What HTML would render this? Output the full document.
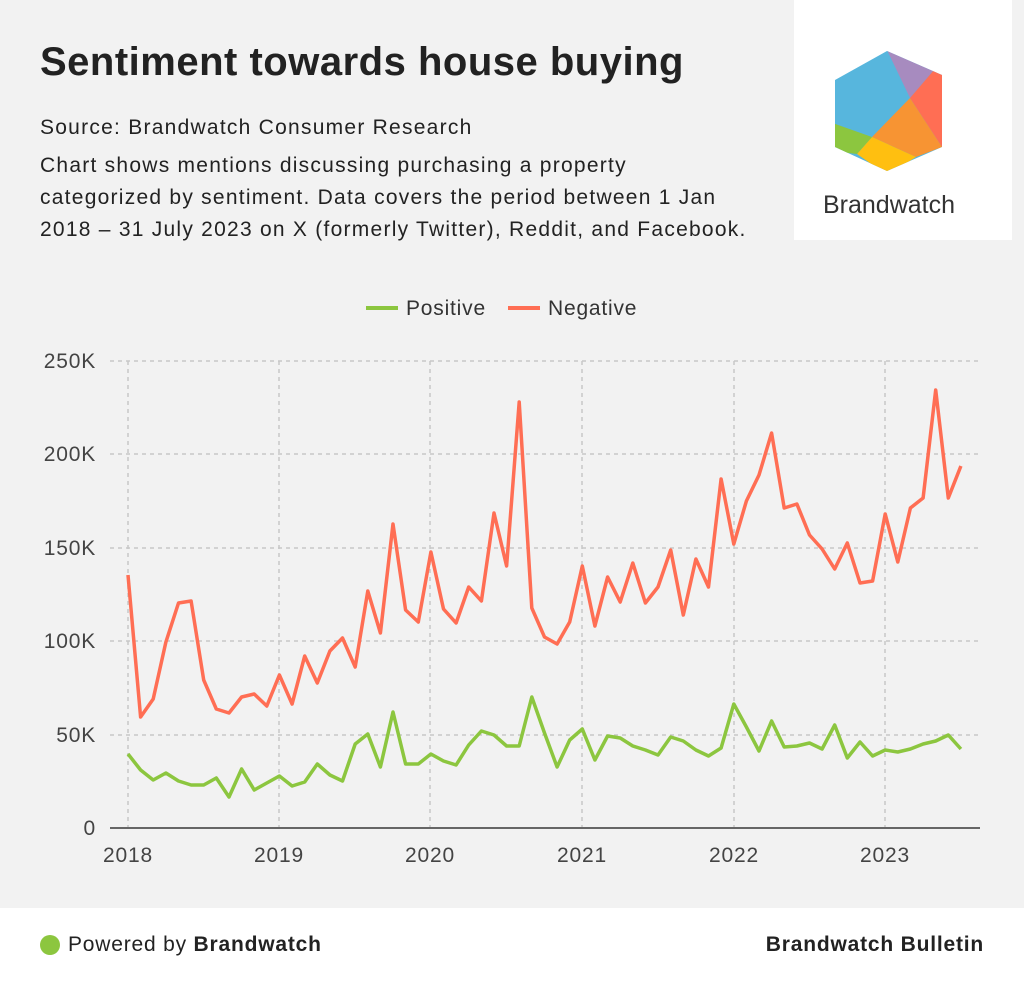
<!DOCTYPE html>
<html><head><meta charset="utf-8"><style>
body{margin:0;width:1024px;height:984px;background:#f2f2f2;font-family:"Liberation Sans",sans-serif;position:relative;overflow:hidden;color:#222}
h1{position:absolute;left:40px;top:40px;margin:0;font-size:40px;font-weight:bold;color:#222;letter-spacing:0.5px}
.t{position:absolute;left:40px;font-size:21px;color:#222;line-height:32px;letter-spacing:1.25px;white-space:nowrap}
.logo{position:absolute;left:794px;top:0;width:218px;height:240px;background:#fff}
.foot{position:absolute;left:0;top:908px;width:1024px;height:76px;background:#fff}
</style></head><body>
<h1>Sentiment towards house buying</h1>
<div class="t" style="top:112px">Source: Brandwatch Consumer Research</div>
<div class="t" style="top:150px">Chart shows mentions discussing purchasing a property<br>categorized by sentiment. Data covers the period between 1 Jan<br>2018 – 31 July 2023 on X (formerly Twitter), Reddit, and Facebook.</div>
<div class="logo"><svg width="218" height="240">
<defs><clipPath id="hx"><polygon points="93,51 148,75 148,147 93,171 41,147 41,80"/></clipPath></defs>
<g clip-path="url(#hx)">
<rect x="0" y="0" width="218" height="240" fill="#57b6dd"/>
<polygon points="92,48 140,70 116,98" fill="#a78bbf"/>
<polygon points="140,70 160,70 160,150 148,147 116,98" fill="#ff6e54"/>
<polygon points="116,98 148,147 122,157 78,137" fill="#f79433"/>
<polygon points="78,137 122,157 93,175 63,154" fill="#ffbf10"/>
<polygon points="30,120 78,137 63,154 30,150" fill="#8cc63f"/>
</g>
<text x="95" y="213" text-anchor="middle" font-size="25" fill="#333" font-family="Liberation Sans">Brandwatch</text>
</svg></div>
<svg id="c" width="1024" height="900" style="position:absolute;left:0;top:0">
<g font-size="21" fill="#333" letter-spacing="0.8">
<line x1="366" y1="308" x2="398" y2="308" stroke="#8cc63f" stroke-width="4"/><text x="406" y="315">Positive</text>
<line x1="508" y1="308" x2="540" y2="308" stroke="#ff6e54" stroke-width="4"/><text x="548" y="315">Negative</text>
</g>
<g id="grid" stroke="#c8c8c8" stroke-width="1.5" stroke-dasharray="4,4"></g>
<line x1="110" y1="828" x2="980" y2="828" stroke="#666" stroke-width="2"/>
<g id="lab" font-size="21" fill="#444" letter-spacing="0.8"></g>
<polyline id="neg" fill="none" stroke="#ff6e54" stroke-width="3.5" stroke-linejoin="round"/>
<polyline id="pos" fill="none" stroke="#8cc63f" stroke-width="3.5" stroke-linejoin="round"/>
</svg>
<div class="foot">
<div style="position:absolute;left:40px;top:27px;width:20px;height:20px;border-radius:50%;background:#8cc63f"></div>
<div style="position:absolute;left:68px;top:25px;font-size:21px;letter-spacing:0.8px;color:#222">Powered by <b>Brandwatch</b></div>
<div style="position:absolute;right:40px;top:25px;font-size:21px;letter-spacing:0.8px;font-weight:bold;color:#222">Brandwatch Bulletin</div>
</div>
<script>
var ns="http://www.w3.org/2000/svg",g=document.getElementById('grid'),lab=document.getElementById('lab');
function el(p,t,a,txt){var e=document.createElementNS(ns,t);for(var k in a)e.setAttribute(k,a[k]);if(txt)e.textContent=txt;p.appendChild(e);}
var ys=[828,735,641,548,454,361],yl=['0','50K','100K','150K','200K','250K'];
for(var i=0;i<6;i++){if(i>0)el(g,'line',{x1:110,x2:980,y1:ys[i],y2:ys[i]});el(lab,'text',{x:96,y:ys[i]+7,'text-anchor':'end'},yl[i]);}
var xs=[128,279,430,582,734,885];
for(var i=0;i<6;i++){el(g,'line',{x1:xs[i],x2:xs[i],y1:361,y2:828});el(lab,'text',{x:xs[i],y:862,'text-anchor':'middle'},String(2018+i));}
var N=[575,717,699,642,603,601,680,709,713,697,694,706,675,704,656,683,651,638,667,591,633,524,610,622,552,609,623,587,601,513,566,402,608,637,644,622,566,626,577,602,563,603,587,550,615,559,587,479,544,501,475,433,508,504,535,549,569,543,583,581,514,562,508,498,390,498,466];
var P=[754,770,780,773,781,785,785,778,797,769,790,783,776,786,782,764,775,781,744,734,767,712,764,764,754,761,765,745,731,735,746,746,697,733,767,740,729,760,736,738,746,750,755,737,741,750,756,748,704,727,751,721,747,746,743,749,725,758,742,756,750,752,749,744,741,735,749];
function pts(a){return a.map(function(y,i){return (128+i*12.62).toFixed(1)+','+y}).join(' ');}
document.getElementById('neg').setAttribute('points',pts(N));
document.getElementById('pos').setAttribute('points',pts(P));
</script>
</body></html>
